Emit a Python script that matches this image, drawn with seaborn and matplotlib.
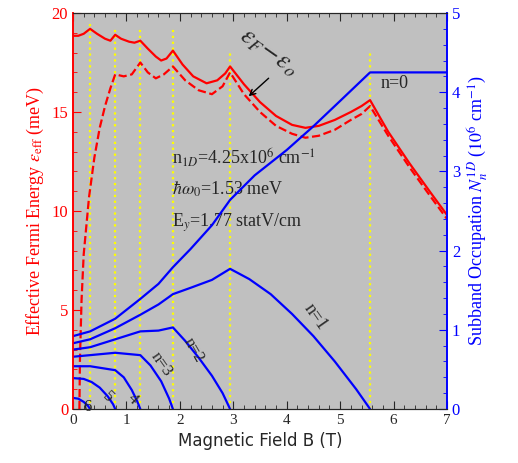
import numpy as np
import pandas as pd
import seaborn as sns
import matplotlib.pyplot as plt
from matplotlib.ticker import MultipleLocator

# critical fields (yellow dotted lines) and their heights in meV
b_crit = [0.32, 0.79, 1.26, 1.87, 2.94, 5.56]
crit_top = [19.6, 19.2, 19.2, 19.2, 18.0, 18.0]

# effective Fermi energy (meV), solid and dashed
e_solid_b = [0, 0.1, 0.2, 0.32, 0.45, 0.6, 0.7, 0.79, 0.9, 1.05, 1.15, 1.26, 1.4, 1.55, 1.65, 1.75, 1.87,
             2.05, 2.25, 2.5, 2.7, 2.85, 2.94, 3.2, 3.5, 3.8, 4.1, 4.35, 4.6, 4.9, 5.2, 5.4, 5.56,
             5.9, 6.3, 6.7, 7.0]
e_solid = [18.85, 18.85, 18.95, 19.2, 18.95, 18.7, 18.6, 18.9, 18.7, 18.55, 18.5, 18.6, 18.2, 17.8, 17.6, 17.7, 18.1,
           17.4, 16.8, 16.45, 16.6, 16.95, 17.3, 16.4, 15.5, 14.8, 14.35, 14.2, 14.3, 14.6, 15.0, 15.3, 15.6,
           14.0, 12.4, 10.9, 9.8]
e_dash_b = [0.12, 0.13, 0.16, 0.2, 0.3, 0.4, 0.5, 0.6, 0.7, 0.79, 0.95, 1.1, 1.26, 1.4, 1.55, 1.7, 1.87,
            2.1, 2.35, 2.6, 2.8, 2.94, 3.2, 3.5, 3.8, 4.1, 4.35, 4.6, 4.9, 5.2, 5.4, 5.56,
            5.9, 6.3, 6.7, 7.0]
e_dash = [0.0, 2.5, 5.5, 7.8, 10.7, 12.7, 14.2, 15.3, 16.2, 16.9, 16.8, 16.9, 17.5, 17.0, 16.7, 16.9, 17.3,
          16.6, 16.1, 15.9, 16.3, 17.0, 15.9, 15.0, 14.3, 13.9, 13.7, 13.8, 14.1, 14.6, 14.9, 15.3,
          13.8, 12.2, 10.7, 9.6]

# subband occupations (10^6 cm^-1)
occ = {
    0: ([0, 0.32, 0.79, 1.26, 1.6, 1.87, 2.2, 2.6, 2.94, 3.4, 4.0, 4.5, 5.0, 5.56, 6.0, 7.0],
        [0.92, 0.98, 1.14, 1.39, 1.58, 1.79, 2.02, 2.32, 2.64, 2.95, 3.27, 3.57, 3.89, 4.25, 4.25, 4.25]),
    1: ([0, 0.32, 0.79, 1.26, 1.6, 1.87, 2.2, 2.6, 2.94, 3.3, 3.7, 4.1, 4.5, 4.9, 5.3, 5.56],
        [0.83, 0.88, 1.02, 1.19, 1.32, 1.45, 1.53, 1.63, 1.77, 1.64, 1.45, 1.2, 0.92, 0.6, 0.25, 0.0]),
    2: ([0, 0.32, 0.79, 1.26, 1.6, 1.87, 2.1, 2.35, 2.6, 2.8, 2.94],
        [0.75, 0.78, 0.88, 0.98, 0.99, 1.03, 0.86, 0.65, 0.42, 0.2, 0.0]),
    3: ([0, 0.32, 0.79, 1.26, 1.45, 1.65, 1.8, 1.87],
        [0.66, 0.68, 0.71, 0.68, 0.55, 0.35, 0.13, 0.0]),
    4: ([0, 0.32, 0.79, 0.95, 1.1, 1.2, 1.26],
        [0.54, 0.54, 0.49, 0.40, 0.24, 0.1, 0.0]),
    5: ([0, 0.2, 0.35, 0.5, 0.65, 0.75, 0.79],
        [0.39, 0.38, 0.34, 0.27, 0.16, 0.06, 0.0]),
    6: ([0, 0.1, 0.2, 0.28, 0.32],
        [0.14, 0.13, 0.09, 0.04, 0.0]),
}

sns.set_style("ticks")
plt.rcParams['font.family'] = ['Liberation Serif', 'DejaVu Serif']
plt.rcParams['mathtext.fontset'] = 'stix'

fig = plt.figure(figsize=(5.18, 4.63), dpi=100)
ax = fig.add_axes([73 / 518, 1 - 409 / 463, 374 / 518, 396 / 463])
ax.set_facecolor('#c0c0c0')
ax2 = ax.twinx()

for b, top in zip(b_crit, crit_top):
    ax.plot([b, b], [0, top], color='yellow', ls=':', lw=1.6, zorder=1)

sns.lineplot(x=e_solid_b, y=e_solid, ax=ax, color='red', lw=1.6, sort=False)
sns.lineplot(x=e_dash_b, y=e_dash, ax=ax, color='red', lw=1.6, sort=False, linestyle='--')

for n, (b, v) in occ.items():
    sns.lineplot(x=b, y=v, ax=ax2, color='blue', lw=1.6, sort=False)

ax.set_xlim(0, 7)
ax.set_ylim(0, 20)
ax2.set_ylim(0, 5)
ax.xaxis.set_major_locator(MultipleLocator(1))
ax.xaxis.set_minor_locator(MultipleLocator(0.2))
ax.yaxis.set_major_locator(MultipleLocator(5))
ax.yaxis.set_minor_locator(MultipleLocator(1))
ax2.yaxis.set_major_locator(MultipleLocator(1))
ax2.yaxis.set_minor_locator(MultipleLocator(0.2))
ax.tick_params(axis='x', which='both', direction='in', top=True, labelsize=11)
ax.tick_params(axis='x', which='major', length=6)
ax.tick_params(axis='x', which='minor', length=3)
ax.tick_params(axis='y', which='both', direction='in', colors='red', labelsize=12)
ax.tick_params(axis='y', which='major', length=6)
ax.tick_params(axis='y', which='minor', length=3)
ax2.tick_params(axis='y', which='both', direction='in', colors='blue', labelsize=12)
ax2.tick_params(axis='y', which='major', length=6)
ax2.tick_params(axis='y', which='minor', length=3)
for a in (ax, ax2):
    a.spines['left'].set_color('red')
    a.spines['right'].set_color('blue')
    a.spines['left'].set_linewidth(1.2)
    a.spines['right'].set_linewidth(1.2)
    a.spines['top'].set_visible(True)
    a.spines['right'].set_visible(True)

ax.set_xlabel('Magnetic Field B (T)', fontsize=12, family='DejaVu Sans')
ax.set_ylabel(r'Effective Fermi Energy $\varepsilon_{\rm eff}$ (meV)', color='red', fontsize=13)
ax2.set_ylabel(r'Subband Occupation $N_n^{1D}$ ($10^6$ cm$^{-1}$)', color='blue', fontsize=13)

ax.text(3.65, 18.0, r'$\varepsilon_F\!-\!\varepsilon_o$', fontsize=19, rotation=-35,
        rotation_mode='anchor', ha='center', va='center')
ax.annotate('', xy=(3.25, 15.7), xytext=(3.7, 16.8),
            arrowprops=dict(arrowstyle='->', color='black', lw=1))
ax.text(1.85, 12.7, r'n$_{1D}$=4.25x10$^6$ cm$^{-1}$', fontsize=13, va='center')
ax.text(1.85, 11.1, r'$\hbar\omega_0$=1.53 meV', fontsize=13, va='center')
ax.text(1.85, 9.4, r'E$_y$=1.77 statV/cm', fontsize=13, va='center')

ax2.text(5.75, 4.05, 'n=0', fontsize=13)
ax2.text(4.25, 1.0, 'n=1', fontsize=13, rotation=-55)
ax2.text(2.0, 0.6, 'n=2', fontsize=12, rotation=-60)
ax2.text(1.4, 0.42, 'n=3', fontsize=12, rotation=-55)
ax2.text(0.95, 0.07, '4', fontsize=12, rotation=-45)
ax2.text(0.48, 0.09, '5', fontsize=12, rotation=-45)
ax2.text(0.2, -0.02, '6', fontsize=12)

fig.savefig('out.png', dpi=100)
